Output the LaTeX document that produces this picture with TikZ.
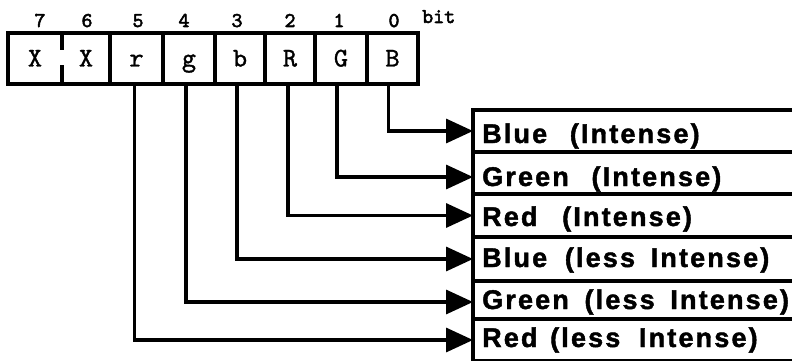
\documentclass[tikz,border=0pt]{standalone}
\usepackage{fontspec}
\usetikzlibrary{arrows.meta}
\newfontfamily\labfam{Liberation Sans}[LetterSpace=8,FakeBold=1.6]
\newfontfamily\cellfam{lmmono10-regular}[Extension=.otf,FakeBold=1.2]
\newfontfamily\numfam{lmmono10-regular}[Extension=.otf,FakeBold=2.5]
\newcommand\gp[1]{\hspace{#1pt}}
\begin{document}
\begin{tikzpicture}[x=1pt,y=-1pt,
  thickline/.style={line width=3.4pt},
  cell/.style={thickline,draw,minimum height=51pt,inner sep=0pt,outer sep=0pt,
    font=\cellfam\fontsize{27}{27}\selectfont,text height=16pt,text depth=0pt},
  xcell/.style={cell,draw=none},
  bitnum/.style={anchor=base,inner sep=0pt,font=\numfam\fontsize{21}{21}\selectfont},
  row/.style={thickline,draw,anchor=north west,minimum width=340pt,inner sep=0pt,outer sep=0pt},
  lab/.style={anchor=base west,inner sep=0pt,font=\labfam\bfseries\fontsize{27}{27}\selectfont},
  arr/.style={thickline,-{Triangle[length=27pt,width=24pt]}}]
\useasboundingbox (0,0) rectangle (792,361);
\clip (0,0) rectangle (792,361);
% register cells
\node[xcell,minimum width=54pt] (c7) at (35,58.5) {X};
\node[xcell,minimum width=48pt] (c6) at (86,58.5) {X};
\draw[thickline] (c7.north west) rectangle (c6.south east);
\draw[thickline] (c7.north east) -- ++(0,17);
\draw[thickline] (c7.south east) -- ++(0,-19);
\node[cell,minimum width=53pt] (c5) at (136.5,58.5) {r};
\node[cell,minimum width=52pt] (c4) at (189,58.5) {g};
\node[cell,minimum width=50pt] (c3) at (240,58.5) {b};
\node[cell,minimum width=50pt] (c2) at (290,58.5) {R};
\node[cell,minimum width=52pt] (c1) at (341,58.5) {G};
\node[cell,minimum width=51pt] (c0) at (392.5,58.5) {B};
% bit numbers
\node[bitnum] (n7) at (40,27) {7};
\node[bitnum] (n6) at (87,27) {6};
\node[bitnum] (n5) at (138,27) {5};
\node[bitnum] (n4) at (184,27) {4};
\node[bitnum] (n3) at (237,27) {3};
\node[bitnum] (n2) at (290,27) {2};
\node[bitnum] (n1) at (339,27) {1};
\node[bitnum] (n0) at (394,27) {0};
\node[bitnum,anchor=base west] (bit) at (422,23) {bit};
% output rows
\node[row,minimum height=42pt] (r0) at (473,110) {};
\node[row,minimum height=42pt] (r1) at (473,152) {};
\node[row,minimum height=43pt] (r2) at (473,194) {};
\node[row,minimum height=44pt] (r3) at (473,237) {};
\node[row,minimum height=38pt] (r4) at (473,281) {};
\node[row,minimum height=42pt] (r5) at (473,319) {};
\node[lab] (l0) at (482,143) {Blue\gp{13} (Intense)};
\node[lab] (l1) at (482,186) {Green\gp{13} (Intense)};
\node[lab] (l2) at (482,226) {Red\gp{15} (Intense)};
\node[lab] (l3) at (482,267) {Blue\gp{8} (less\gp{6} Intense)};
\node[lab] (l4) at (482,309) {Green\gp{6} (less\gp{6} Intense)};
\node[lab] (l5) at (482,347) {Red\gp{3} (less\gp{9} Intense)};
% connectors
\draw[arr] ([xshift=-4pt]c0.south) |- (r0.west);
\draw[arr] ([xshift=-4pt]c1.south) |- ([yshift=-4pt]r1.west);
\draw[arr] ([xshift=-2pt]c2.south) |- (r2.west);
\draw[arr] ([xshift=-3pt]c3.south) |- (r3.west);
\draw[arr] ([xshift=-3pt]c4.south) |- ([yshift=-2pt]r4.west);
\draw[arr] ([xshift=-2pt]c5.south) |- (r5.west);
\end{tikzpicture}
\end{document}
